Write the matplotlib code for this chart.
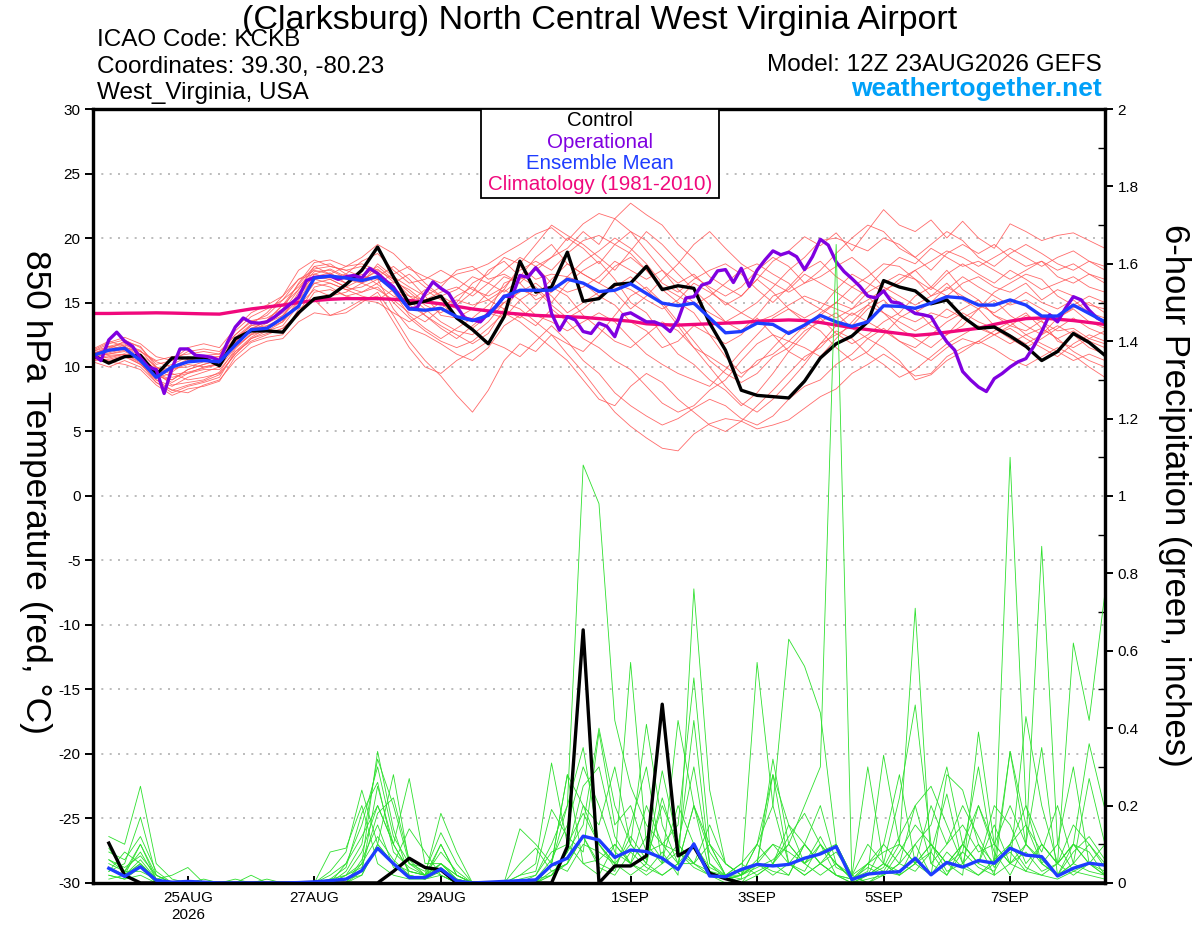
import matplotlib
matplotlib.use('Agg')
import matplotlib.pyplot as plt
from matplotlib.patches import Rectangle
from matplotlib.ticker import FormatStrFormatter, MultipleLocator
import pandas as pd

plt.rcParams['font.family'] = ['Liberation Sans', 'DejaVu Sans']
plt.rcParams['axes.unicode_minus'] = False

# time axes: 6-hourly ensemble, 3-hourly operational
t_times = pd.date_range('2026-08-23 12:00', periods=65, freq='6h')
p_times = pd.date_range('2026-08-23 18:00', periods=64, freq='6h')
op_times = pd.date_range('2026-08-23 12:00', periods=129, freq='3h')

tick_days = ['2026-08-25', '2026-08-27', '2026-08-29', '2026-09-01',
             '2026-09-03', '2026-09-05', '2026-09-07']
tick_labels = ['25AUG\n2026', '27AUG', '29AUG', '1SEP', '3SEP', '5SEP', '7SEP']

# 850 hPa temperature (C)
control_t = [10.9, 10.3, 10.8, 10.9, 9.4, 10.7, 10.7, 10.7, 10.1, 12.2, 12.8, 12.8, 12.7,
             14.2, 15.3, 15.5, 16.4, 17.5, 19.3, 17.0, 14.9, 15.1, 15.5, 13.8, 12.9, 11.8,
             13.9, 18.2, 15.8, 16.2, 18.9, 15.1, 15.3, 16.4, 16.5, 17.8, 16.0, 16.3, 16.1,
             13.4, 11.3, 8.2, 7.8, 7.7, 7.6, 8.9, 10.7, 11.8, 12.4, 13.5, 16.7, 16.2, 15.9,
             14.9, 15.2, 13.9, 13.0, 13.1, 12.4, 11.6, 10.5, 11.2, 12.6, 11.9, 10.9]

mean_t = [10.9, 11.3, 11.45, 10.5, 9.2, 10.0, 10.4, 10.5, 10.4, 11.7, 12.9, 13.0, 13.8,
          14.7, 16.9, 17.05, 16.9, 16.7, 17.0, 16.0, 14.5, 14.4, 14.55, 13.9, 13.6, 14.0,
          15.45, 15.95, 15.95, 15.95, 16.8, 16.5, 15.85, 15.95, 16.45, 15.7, 14.95, 14.75,
          14.95, 13.8, 12.65, 12.75, 13.4, 13.3, 12.6, 13.25, 14.0, 13.5, 13.15, 13.5, 14.75,
          14.7, 14.55, 14.95, 15.45, 15.35, 14.8, 14.8, 15.2, 14.8, 13.95, 13.95, 14.8,
          14.15, 13.5]

clim_t = [14.15, 14.15, 14.17, 14.18, 14.2, 14.18, 14.15, 14.12, 14.1,
          14.3, 14.5, 14.65, 14.8, 15.0, 15.15,
          15.25, 15.3, 15.3, 15.3, 15.25, 15.15,
          15.05, 14.9, 14.7, 14.5, 14.35, 14.2, 14.1, 14.0, 13.95, 13.9,
          13.85, 13.75, 13.65, 13.55, 13.35, 13.28, 13.25, 13.3, 13.35, 13.4,
          13.45, 13.55, 13.6, 13.65, 13.6, 13.45, 13.25, 13.05, 12.9, 12.75,
          12.6, 12.45, 12.55, 12.7, 12.85, 13.0,
          13.3, 13.55, 13.75, 13.8, 13.7, 13.6, 13.45, 13.3]

oper_t = [11.0, 10.5, 12.1, 12.7, 12.0, 11.6, 10.7, 10.0, 9.8, 7.95, 9.9, 11.4, 11.4,
          10.9, 10.85, 10.75, 10.5, 11.9, 13.1, 13.8, 13.45, 13.4, 13.5, 13.9, 14.4, 14.9,
          15.4, 16.7, 16.95, 17.0, 17.05, 16.8, 17.0, 17.1, 16.9, 17.65, 17.25, 16.7, 16.2,
          15.3, 14.5, 14.6, 15.7, 16.6, 16.1, 15.7, 14.7, 13.8, 13.65, 13.5, 14.15, 14.7,
          15.5, 15.45, 17.1, 16.95, 17.7, 16.95, 14.15, 12.85, 13.9, 13.65, 12.75, 12.6,
          13.4, 13.15, 12.35, 14.05, 14.2, 13.85, 13.5, 13.5, 13.25, 12.75, 13.65, 15.35,
          15.45, 16.35, 16.55, 17.45, 17.55, 16.55, 17.65, 16.25, 17.5, 18.3, 19.0, 18.7,
          18.9, 18.55, 17.55, 18.55, 19.9, 19.45, 18.15, 17.4, 16.85, 16.25, 15.5, 15.35,
          15.9, 15.05, 14.95, 14.55, 14.15, 14.05, 13.9, 12.85, 11.95, 11.3, 9.65, 9.0,
          8.45, 8.1, 9.1, 9.5, 10.0, 10.4, 10.65, 11.6, 12.75, 14.05, 13.5, 14.55, 15.45,
          15.2, 14.4, 13.8, 13.45]

members_t = [
    [11.2, 11.8, 12.1, 11.5, 10.2, 10.5, 11.2, 11.4,
     11.2, 12.5, 13.6, 13.8, 14.5, 16.5, 18.1, 18.3,
     17.8, 18.5, 19.5, 18.8, 17.6, 17.0, 16.5, 17.2,
     17.5, 18.0, 18.8, 19.5, 20.3, 20.8, 19.8, 21.1,
     21.9, 21.5, 22.7, 21.8, 21.0, 19.5, 18.4, 17.0,
     16.2, 15.5, 16.8, 18.2, 19.0, 20.1, 19.4, 20.4,
     19.0, 20.6, 22.2, 21.0, 20.5, 21.4, 20.0, 21.3,
     20.0, 19.2, 21.1, 20.5, 19.8, 20.2, 20.4, 19.8, 19.2],
    [10.6, 10.4, 10.2, 9.8, 8.6, 7.8, 8.3, 8.5,
     8.9, 10.8, 11.9, 12.3, 12.5, 14.5, 15.2, 14.0,
     14.2, 15.0, 15.8, 14.0, 12.0, 10.5, 9.3, 7.8,
     6.5, 8.2, 10.5, 11.8, 11.2, 12.5, 11.0, 9.6,
     8.0, 6.5, 5.4, 4.5, 3.7, 3.5, 4.8, 5.6,
     6.0, 5.8, 5.2, 5.5, 5.9, 6.8, 7.7, 8.3,
     9.5, 10.2, 11.0, 10.2, 9.3, 9.5, 10.8, 11.5,
     12.0, 11.4, 10.6, 10.1, 10.8, 11.5, 10.9, 10.0, 9.2],
    [11.0, 11.5, 11.8, 11.0, 9.5, 9.0, 9.8, 10.2,
     10.5, 12.0, 12.8, 13.4, 14.2, 15.5, 17.2, 17.6,
     17.0, 16.8, 17.4, 16.2, 14.8, 14.0, 13.2, 12.5,
     11.8, 12.6, 14.5, 16.0, 15.5, 16.8, 18.0, 17.2,
     16.5, 17.8, 18.5, 17.5, 16.0, 15.0, 14.2, 12.5,
     10.8, 9.5, 10.2, 11.5, 12.8, 13.0, 14.2, 15.0,
     14.5, 15.8, 16.5, 17.2, 16.8, 15.5, 16.0, 17.0,
     16.2, 15.5, 14.8, 15.2, 14.5, 13.8, 14.6, 15.0, 14.2],
    [10.8, 11.0, 11.2, 10.6, 9.0, 8.5, 9.2, 9.6,
     10.0, 11.5, 12.5, 13.2, 13.6, 15.0, 16.8, 17.0,
     16.5, 17.2, 16.4, 15.5, 15.0, 16.0, 15.2, 14.5,
     13.5, 14.2, 16.5, 17.0, 16.2, 15.0, 16.5, 17.5,
     18.2, 16.8, 15.0, 14.2, 12.5, 11.0, 10.2, 9.0,
     8.2, 7.0, 8.0, 9.5, 11.2, 12.5, 13.8, 12.6,
     11.8, 12.5, 13.5, 14.2, 15.5, 16.2, 17.5, 16.0,
     15.2, 14.0, 13.2, 12.8, 13.6, 12.0, 11.5, 12.2, 12.8],
    [11.4, 12.0, 11.6, 10.8, 9.8, 10.2, 10.8, 10.6,
     10.8, 12.2, 13.2, 13.6, 14.8, 16.0, 17.8, 17.2,
     16.8, 16.5, 18.0, 17.0, 16.2, 15.5, 14.0, 13.8,
     14.5, 15.8, 17.0, 16.5, 17.8, 18.5, 20.0, 19.2,
     18.0, 19.5, 20.5, 19.8, 18.5, 17.2, 16.0, 14.8,
     13.5, 12.8, 14.0, 15.5, 16.0, 17.2, 16.5, 15.8,
     15.0, 16.2, 17.5, 18.5, 18.0, 19.2, 18.5, 17.8,
     18.2, 17.5, 16.8, 17.5, 18.2, 17.0, 16.5, 17.2, 16.5],
    [10.5, 10.8, 11.0, 10.3, 8.8, 8.0, 8.5, 8.8,
     9.2, 11.2, 12.0, 12.5, 13.0, 14.2, 16.2, 16.5,
     16.0, 16.2, 16.8, 14.5, 13.0, 12.5, 11.8, 11.0,
     10.5, 11.5, 13.2, 14.0, 13.2, 14.5, 13.5, 12.2,
     11.5, 10.5, 9.8, 8.5, 7.2, 6.5, 7.0, 8.2,
     9.0, 10.5, 11.8, 12.5, 12.0, 13.2, 14.0, 15.0,
     16.2, 15.5, 14.2, 13.5, 12.8, 13.5, 14.5, 13.8,
     13.0, 12.5, 13.2, 14.0, 13.5, 12.8, 13.0, 12.2, 11.8],
    [11.0, 11.2, 11.5, 11.2, 10.5, 10.8, 11.0, 11.2,
     11.0, 12.5, 13.5, 14.0, 15.2, 16.2, 17.6, 17.8,
     17.5, 17.8, 17.2, 16.0, 15.5, 15.2, 15.8, 16.2,
     15.5, 16.5, 17.5, 18.5, 17.8, 16.5, 15.8, 16.2,
     17.0, 18.2, 17.5, 16.8, 17.5, 16.5, 17.2, 16.0,
     14.8, 15.5, 16.8, 15.8, 14.5, 13.8, 14.5, 16.0,
     17.2, 16.5, 15.8, 16.8, 17.5, 16.2, 15.5, 16.5,
     17.0, 16.2, 15.8, 16.5, 15.2, 16.0, 15.5, 14.8, 14.5],
    [10.7, 10.5, 10.8, 10.2, 9.2, 9.5, 9.0, 9.2,
     9.5, 11.0, 12.2, 12.8, 13.2, 14.8, 16.0, 15.5,
     15.8, 16.5, 16.0, 15.2, 14.2, 13.5, 14.5, 15.5,
     16.2, 15.2, 14.5, 13.8, 14.8, 16.2, 15.5, 14.0,
     13.0, 12.0, 11.5, 12.5, 13.5, 12.8, 11.5, 10.8,
     10.0, 9.2, 10.5, 11.0, 12.0, 11.5, 10.8, 12.2,
     13.5, 14.8, 14.2, 13.0, 12.2, 11.5, 12.5, 13.2,
     14.5, 15.2, 14.0, 13.2, 12.5, 13.8, 14.5, 13.5, 13.0],
    [11.2, 11.6, 11.4, 10.5, 9.5, 9.8, 10.2, 10.0,
     10.2, 11.8, 13.0, 13.2, 13.8, 15.8, 17.0, 16.8,
     16.2, 15.8, 16.5, 17.2, 17.8, 16.5, 15.5, 14.8,
     15.8, 17.5, 18.2, 17.0, 18.5, 19.5, 18.0, 17.2,
     16.5, 15.8, 14.5, 15.5, 16.8, 18.0, 19.5, 20.5,
     19.2, 18.0, 17.2, 16.5, 15.8, 16.5, 17.0, 17.8,
     18.5, 17.5, 16.2, 15.5, 14.8, 15.5, 16.5, 15.2,
     14.5, 15.8, 16.5, 17.2, 16.8, 15.5, 14.8, 15.5, 15.0],
    [10.9, 11.0, 11.3, 10.8, 9.8, 9.2, 9.5, 10.0,
     10.3, 11.6, 12.5, 12.8, 13.5, 15.2, 16.5, 16.2,
     15.5, 15.2, 15.0, 14.2, 13.5, 14.2, 15.0, 13.8,
     13.0, 14.0, 15.0, 14.5, 13.5, 12.5, 11.8, 11.2,
     12.5, 14.0, 15.5, 16.2, 15.0, 13.5, 12.0, 10.5,
     9.5, 8.8, 9.5, 10.8, 11.5, 12.8, 13.5, 14.2,
     13.0, 12.2, 11.5, 10.5, 9.0, 9.4, 10.5, 11.2,
     12.0, 12.8, 13.5, 12.5, 11.8, 11.2, 10.5, 11.0, 10.5],
    [11.1, 11.4, 12.0, 11.6, 10.0, 9.6, 10.5, 10.8,
     10.8, 12.3, 13.3, 14.2, 15.5, 16.8, 17.2, 16.9,
     17.2, 18.2, 18.8, 17.5, 16.5, 16.8, 17.5, 16.8,
     16.0, 15.5, 16.2, 17.5, 18.2, 17.5, 18.8, 19.8,
     20.2, 19.5, 18.8, 17.5, 16.2, 15.5, 14.8, 15.5,
     16.5, 17.5, 18.0, 17.2, 16.5, 15.2, 14.5, 13.8,
     14.5, 15.2, 16.0, 16.5, 17.5, 18.2, 19.0, 18.5,
     17.8, 18.5, 19.2, 18.5, 17.8, 18.5, 19.0, 18.2, 17.5],
    [10.4, 10.0, 10.5, 10.0, 8.8, 8.2, 8.0, 8.6,
     9.0, 10.5, 11.5, 12.0, 12.2, 13.5, 14.2, 14.0,
     14.5, 15.2, 15.5, 13.5, 11.5, 10.0, 9.5, 10.5,
     11.2, 12.0, 11.5, 10.8, 12.0, 13.2, 12.0, 10.5,
     9.5, 8.0, 7.0, 6.2, 5.5, 6.0, 6.8, 7.5,
     7.0, 6.0, 5.5, 6.2, 7.5, 8.5, 9.0, 10.2,
     11.0, 12.2, 13.0, 12.0, 11.2, 10.5, 11.5, 12.2,
     11.8, 12.5, 13.0, 12.2, 11.5, 10.8, 11.8, 12.5, 12.0],
    [11.3, 11.9, 12.3, 11.8, 10.8, 10.5, 11.5, 11.8,
     11.5, 13.0, 14.2, 14.8, 15.5, 17.5, 18.3, 17.8,
     17.5, 17.0, 16.8, 16.5, 17.2, 16.2, 15.5, 16.0,
     17.0, 16.5, 15.8, 16.8, 17.5, 18.5, 19.2, 20.5,
     19.5, 21.5, 20.5, 19.0, 17.5, 16.0, 15.0, 14.2,
     13.5, 14.2, 15.0, 16.2, 17.5, 18.5, 19.8, 20.0,
     19.5, 19.0, 20.0, 19.5, 18.5, 17.5, 18.8, 19.5,
     18.8, 19.5, 18.5, 17.8, 18.2, 17.5, 18.0, 17.2, 16.8],
    [10.6, 10.9, 11.0, 10.4, 9.4, 8.8, 9.5, 9.8,
     9.8, 11.2, 12.3, 13.0, 14.0, 15.2, 17.0, 17.3,
     16.5, 17.0, 17.8, 16.8, 15.5, 14.5, 13.5, 12.8,
     12.5, 13.5, 15.0, 15.8, 16.5, 15.5, 14.2, 15.0,
     15.8, 16.2, 17.0, 16.0, 14.8, 13.2, 11.5, 10.0,
     8.5, 7.2, 6.5, 7.5, 8.8, 10.2, 11.8, 12.5,
     13.2, 14.5, 15.2, 14.0, 13.5, 14.2, 13.8, 14.5,
     15.2, 14.0, 13.5, 14.2, 13.0, 12.2, 12.8, 12.0, 11.5],
    [11.0, 11.3, 11.7, 11.3, 9.9, 9.9, 10.0, 10.4,
     10.5, 12.0, 13.0, 13.5, 14.3, 16.0, 17.4, 17.5,
     16.9, 16.6, 17.6, 16.6, 16.0, 15.0, 14.8, 15.2,
     14.8, 15.2, 16.0, 17.8, 16.8, 17.2, 17.0, 16.5,
     15.5, 16.5, 16.0, 15.2, 14.5, 15.2, 16.5, 15.8,
     15.0, 14.2, 13.5, 14.0, 14.8, 15.5, 15.0, 14.5,
     14.0, 14.8, 15.8, 15.0, 14.2, 15.0, 16.2, 15.5,
     14.8, 14.2, 15.0, 15.8, 15.0, 14.5, 15.2, 14.2, 13.8],
    [10.8, 10.7, 11.0, 10.9, 9.6, 8.6, 8.8, 9.0,
     9.6, 11.4, 12.6, 13.0, 13.5, 14.8, 16.5, 16.8,
     16.2, 16.8, 17.0, 15.8, 14.0, 13.0, 12.2, 13.0,
     13.8, 14.8, 16.0, 15.2, 14.0, 13.5, 12.8, 13.5,
     14.2, 13.5, 12.2, 11.0, 10.2, 9.5, 9.0, 8.5,
     9.8, 11.2, 12.5, 13.8, 14.5, 13.5, 12.8, 11.5,
     10.5, 11.2, 12.5, 13.8, 14.5, 13.2, 12.5, 13.8,
     14.5, 13.2, 12.5, 11.8, 12.5, 13.2, 12.5, 11.5, 11.0],
    [11.0, 11.6, 11.9, 11.2, 10.4, 10.0, 10.6, 10.9,
     11.0, 12.8, 13.9, 14.5, 15.2, 16.8, 17.5, 17.2,
     17.8, 18.0, 17.5, 16.8, 15.8, 14.8, 14.2, 15.0,
     16.5, 17.2, 18.5, 18.0, 19.5, 21.0, 20.2, 19.5,
     18.5, 17.5, 19.0, 20.5, 19.5, 18.2, 17.0, 16.2,
     15.5, 16.2, 17.5, 18.5, 17.8, 16.5, 17.5, 18.8,
     20.0, 21.0, 20.5, 19.2, 18.5, 19.5, 20.5, 19.8,
     18.5, 17.8, 18.8, 19.5, 18.8, 18.0, 17.5, 18.2, 17.8],
    [10.5, 10.6, 10.9, 10.2, 9.0, 8.2, 8.6, 8.9,
     9.4, 11.0, 12.2, 12.6, 13.0, 14.0, 15.8, 16.0,
     15.5, 15.8, 16.2, 15.0, 13.8, 12.8, 12.0, 11.5,
     12.0, 13.0, 14.2, 13.5, 12.5, 11.5, 10.5, 9.0,
     7.5, 7.0, 8.5, 9.5, 8.8, 7.5, 6.5, 5.5,
     5.0, 5.8, 7.0, 8.2, 9.5, 10.8, 11.5, 12.8,
     12.2, 11.0, 10.2, 9.2, 9.8, 10.8, 11.8, 12.5,
     13.2, 12.5, 11.8, 12.5, 13.0, 12.2, 11.2, 10.5, 10.0],
    [11.1, 11.2, 11.6, 11.0, 10.0, 9.4, 9.6, 9.9,
     10.2, 11.9, 12.9, 13.6, 14.8, 16.4, 17.8, 18.0,
     17.2, 16.5, 17.0, 17.8, 16.8, 15.5, 16.2, 17.5,
     17.8, 16.8, 17.2, 16.5, 15.2, 15.8, 17.0, 18.2,
     19.0, 20.0, 19.2, 18.0, 16.5, 15.8, 16.8, 17.5,
     18.0, 17.2, 16.0, 15.0, 16.2, 17.5, 18.2, 17.0,
     16.2, 17.0, 18.0, 17.8, 16.8, 16.0, 17.2, 18.0,
     17.2, 16.5, 17.5, 16.8, 16.0, 16.5, 17.0, 16.2, 15.8],
    [10.7, 11.1, 11.4, 10.7, 9.3, 9.0, 9.8, 10.2,
     10.6, 12.1, 13.2, 13.4, 14.0, 15.6, 16.8, 16.5,
     16.0, 15.5, 15.2, 16.0, 15.2, 14.0, 13.0, 12.2,
     13.2, 14.2, 13.8, 15.2, 16.0, 14.8, 13.8, 14.5,
     15.5, 14.8, 13.5, 12.8, 11.5, 12.0, 13.2, 12.5,
     11.8, 12.5, 13.8, 12.5, 11.2, 10.5, 11.8, 13.2,
     14.2, 13.5, 12.8, 12.0, 11.5, 12.5, 13.5, 14.2,
     13.5, 13.0, 12.2, 11.5, 12.2, 13.0, 13.8, 13.0, 12.5],
]

# 6-hour precipitation (inches)
control_p = [0.103, 0.02, 0, 0, 0, 0, 0, 0,
             0, 0, 0, 0, 0, 0, 0, 0,
             0, 0, 0.03, 0.064, 0.04, 0.034, 0, 0,
             0, 0, 0, 0, 0, 0.094, 0.654, 0,
             0.044, 0.044, 0.07, 0.462, 0.07, 0.094, 0.025, 0.011,
             0, 0, 0, 0, 0, 0, 0, 0,
             0, 0, 0, 0, 0, 0, 0, 0,
             0, 0, 0, 0, 0, 0, 0, 0]

mean_p = [0.038, 0.017, 0.042, 0.007, 0.002, 0.004, 0.002, 0,
          0, 0, 0, 0, 0.001, 0.003, 0.006, 0.01,
          0.032, 0.09, 0.05, 0.014, 0.014, 0.036, 0.005, 0,
          0.002, 0.004, 0.006, 0.008, 0.046, 0.064, 0.121, 0.111,
          0.066, 0.085, 0.081, 0.064, 0.035, 0.101, 0.018, 0.016,
          0.035, 0.048, 0.044, 0.048, 0.064, 0.075, 0.094, 0.009,
          0.023, 0.027, 0.029, 0.064, 0.021, 0.053, 0.041, 0.058,
          0.051, 0.09, 0.072, 0.068, 0.018, 0.038, 0.051, 0.046]

members_p = [
    [0.05, 0.03, 0.08, 0.01, 0, 0, 0, 0,
     0, 0, 0, 0, 0, 0, 0.02, 0.05,
     0.12, 0.2, 0.1, 0.03, 0.02, 0.05, 0.01, 0,
     0, 0, 0, 0.02, 0.1, 0.2, 1.08, 0.98,
     0.42, 0.25, 0.15, 0.1, 0.05, 0.2, 0.08, 0.02,
     0.03, 0.05, 0.1, 0.08, 0.05, 0.12, 0.04, 0.02,
     0, 0.03, 0.1, 0.05, 0.08, 0.02, 0.1, 0.05,
     0.15, 0.05, 0.03, 0.02, 0.05, 0.1, 0.05, 0.03],
    [0.02, 0.01, 0.04, 0, 0, 0, 0, 0,
     0, 0, 0, 0, 0, 0, 0, 0.02,
     0.05, 0.12, 0.06, 0.02, 0.01, 0.02, 0, 0,
     0, 0, 0, 0, 0.03, 0.05, 0.12, 0.04,
     0.02, 0.08, 0.04, 0.02, 0.05, 0.1, 0.03, 0.01,
     0.02, 0.04, 0.06, 0.1, 0.2, 0.3, 1.65, 0,
     0.02, 0.05, 0.03, 0.06, 0.02, 0.08, 0.04, 0.02,
     0.06, 0.1, 0.04, 0.02, 0.01, 0.03, 0.02, 0.01],
    [0.1, 0.02, 0.05, 0.01, 0, 0, 0, 0,
     0.01, 0, 0, 0, 0, 0, 0.03, 0.08,
     0.24, 0.1, 0.05, 0.03, 0.02, 0.18, 0.08, 0,
     0, 0, 0.02, 0.05, 0.31, 0.1, 0.05, 0.06,
     0.1, 0.05, 0.03, 0.08, 0.02, 0.76, 0.24, 0.05,
     0.02, 0.05, 0.03, 0.02, 0.1, 0.05, 0.08, 0.02,
     0.05, 0.03, 0.02, 0.05, 0.1, 0.03, 0.05, 0.02,
     0.05, 1.1, 0.2, 0.05, 0.02, 0.05, 0.03, 0.02],
    [0.03, 0.05, 0.17, 0.02, 0, 0, 0, 0,
     0, 0, 0, 0, 0, 0, 0, 0,
     0.05, 0.34, 0.14, 0.02, 0.01, 0.05, 0.02, 0,
     0, 0, 0, 0, 0.05, 0.03, 0.1, 0.08,
     0.05, 0.57, 0.1, 0.05, 0.08, 0.04, 0.02, 0.01,
     0, 0.05, 0.02, 0.05, 0.03, 0.1, 0.05, 0.01,
     0.03, 0.33, 0.1, 0.71, 0.05, 0.02, 0.08, 0.04,
     0.02, 0.05, 0.1, 0.87, 0.1, 0.03, 0.05, 0.02],
    [0.12, 0.1, 0.25, 0.05, 0.01, 0, 0, 0,
     0, 0, 0, 0, 0, 0, 0, 0.01,
     0.02, 0.1, 0.28, 0.05, 0.03, 0.13, 0.05, 0,
     0, 0, 0, 0, 0.02, 0.08, 0.15, 0.4,
     0.2, 0.1, 0.41, 0.15, 0.05, 0.05, 0.02, 0,
     0.01, 0.57, 0.2, 0.05, 0.02, 0.05, 0.02, 0,
     0.01, 0.02, 0.05, 0.03, 0.08, 0.23, 0.05, 0.1,
     0.05, 0.08, 0.03, 0.1, 0.05, 0.62, 0.42, 0.75],
    [0.04, 0.02, 0.1, 0.01, 0, 0, 0, 0,
     0, 0.02, 0, 0, 0, 0, 0.08, 0.09,
     0.2, 0.05, 0.02, 0.01, 0.01, 0.03, 0.01, 0,
     0, 0, 0.14, 0.1, 0.05, 0.28, 0.2, 0.1,
     0.05, 0.02, 0.05, 0.29, 0.1, 0.05, 0.03, 0.02,
     0.05, 0.1, 0.2, 0.63, 0.56, 0.44, 0.1, 0.02,
     0.3, 0.05, 0.02, 0.05, 0.1, 0.05, 0.02, 0.39,
     0.1, 0.05, 0.43, 0.2, 0.05, 0.1, 0.05, 0.02],
    [0.08, 0.06, 0.12, 0.03, 0, 0, 0.01, 0,
     0, 0, 0.01, 0, 0, 0, 0, 0.03,
     0.1, 0.32, 0.2, 0.05, 0.02, 0.08, 0.03, 0,
     0, 0, 0.02, 0.03, 0.19, 0.12, 0.08, 0.39,
     0.15, 0.2, 0.08, 0.1, 0.15, 0.53, 0.1, 0.05,
     0.02, 0.05, 0.32, 0.1, 0.05, 0.02, 0.05, 0.01,
     0.02, 0.05, 0.22, 0.46, 0.1, 0.05, 0.08, 0.3,
     0.05, 0.34, 0.15, 0.05, 0.02, 0.1, 0.36, 0.19],
    [0.02, 0.01, 0.02, 0, 0, 0, 0, 0,
     0, 0, 0, 0, 0, 0, 0, 0,
     0.03, 0.25, 0.1, 0.27, 0.05, 0.05, 0.01, 0,
     0, 0, 0, 0, 0.05, 0.28, 0.05, 0.02,
     0.1, 0.05, 0.02, 0.05, 0.42, 0.2, 0.1, 0.02,
     0, 0.02, 0.05, 0.1, 0.05, 0.08, 0.1, 0,
     0.05, 0.1, 0.28, 0.05, 0.02, 0.28, 0.24, 0.1,
     0.02, 0.34, 0.1, 0.35, 0.02, 0.05, 0.27, 0.1],
    [0.06, 0.04, 0.07, 0.02, 0, 0, 0, 0,
     0, 0, 0, 0, 0, 0, 0, 0,
     0.06, 0.15, 0.04, 0.02, 0.01, 0.1, 0.02, 0,
     0, 0, 0.05, 0.09, 0.03, 0.05, 0.2, 0.15,
     0.3, 0.1, 0.05, 0.22, 0.08, 0.42, 0.05, 0.01,
     0.02, 0.05, 0.28, 0.15, 0.05, 0.1, 0.02, 0,
     0.02, 0.1, 0.05, 0.2, 0.25, 0.15, 0.05, 0.2,
     0.08, 0.02, 0.1, 0.05, 0.1, 0.3, 0.05, 0.1],
    [0.01, 0.02, 0.05, 0.01, 0.02, 0.04, 0, 0,
     0, 0, 0, 0, 0, 0, 0, 0.05,
     0.15, 0.3, 0.12, 0.05, 0.04, 0.02, 0, 0,
     0, 0, 0, 0.01, 0.02, 0.05, 0.12, 0.05,
     0.03, 0.15, 0.3, 0.05, 0.1, 0.05, 0.15, 0.05,
     0.02, 0.1, 0.05, 0.02, 0.1, 0.2, 0.05, 0.02,
     0.1, 0.05, 0.02, 0.1, 0.15, 0.3, 0.1, 0.05,
     0.03, 0.1, 0.15, 0.08, 0.2, 0.05, 0.1, 0.05],
    [0.03, 0.08, 0.05, 0, 0, 0, 0, 0,
     0, 0, 0, 0, 0, 0, 0.01, 0.02,
     0.08, 0.2, 0.1, 0.03, 0.02, 0.05, 0.02, 0,
     0, 0, 0, 0, 0.05, 0.2, 0.35, 0.1,
     0.05, 0.1, 0.05, 0.02, 0.05, 0.2, 0.03, 0.01,
     0.02, 0.1, 0.28, 0.05, 0.02, 0.05, 0.1, 0.02,
     0, 0.02, 0.05, 0.1, 0.02, 0.05, 0.1, 0.05,
     0.2, 0.15, 0.05, 0.1, 0.05, 0.02, 0.05, 0.05],
    [0.09, 0.03, 0.03, 0.01, 0, 0, 0, 0,
     0, 0, 0, 0, 0, 0, 0, 0,
     0.02, 0.1, 0.05, 0.14, 0.08, 0.02, 0, 0,
     0, 0, 0, 0, 0.02, 0.08, 0.25, 0.3,
     0.12, 0.05, 0.2, 0.1, 0.08, 0.05, 0.1, 0.02,
     0.05, 0.02, 0.05, 0.15, 0.1, 0.05, 0.02, 0.01,
     0.05, 0.08, 0.1, 0.05, 0.2, 0.1, 0.15, 0.08,
     0.1, 0.05, 0.08, 0.03, 0.05, 0.1, 0.08, 0.02],
    [0.04, 0.02, 0.06, 0.01, 0, 0, 0, 0,
     0, 0, 0, 0, 0, 0, 0.01, 0.04,
     0.18, 0.26, 0.08, 0.04, 0.02, 0.04, 0.01, 0,
     0, 0, 0.01, 0.02, 0.08, 0.1, 0.18, 0.1,
     0.04, 0.12, 0.06, 0.2, 0.1, 0.3, 0.05, 0.02,
     0.01, 0.03, 0.05, 0.12, 0.18, 0.1, 0.05, 0.01,
     0.02, 0.04, 0.12, 0.2, 0.05, 0.1, 0.2, 0.12,
     0.04, 0.1, 0.2, 0.1, 0.05, 0.15, 0.1, 0.04],
    [0.06, 0.03, 0.1, 0.02, 0, 0, 0, 0,
     0, 0, 0, 0, 0, 0, 0, 0.02,
     0.04, 0.18, 0.22, 0.06, 0.02, 0.1, 0.02, 0,
     0, 0, 0, 0.01, 0.06, 0.15, 0.3, 0.2,
     0.08, 0.05, 0.12, 0.06, 0.2, 0.1, 0.04, 0.02,
     0.02, 0.06, 0.1, 0.05, 0.1, 0.05, 0.02, 0.01,
     0.04, 0.02, 0.08, 0.15, 0.1, 0.05, 0.1, 0.2,
     0.1, 0.2, 0.1, 0.06, 0.02, 0.08, 0.12, 0.06],
]

RED = '#ff5a5a'
GREEN = '#2ee02e'
PURPLE = '#8000e0'
BLUE = '#1e3cff'
PINK = '#f0087c'

fig = plt.figure(figsize=(12, 9.27), dpi=100)
ax = fig.add_axes([0.0775, 0.0475, 0.8433, 0.8349])
ax2 = ax.twinx()

for m in members_t:
    ax.plot(t_times, m, color=RED, lw=0.6, alpha=0.9)
ax.plot(t_times, clim_t, color=PINK, lw=2.4, solid_capstyle='round')
ax.plot(t_times, control_t, color='black', lw=2.4)
ax.plot(op_times, oper_t, color=PURPLE, lw=2.4)
ax.plot(t_times, mean_t, color=BLUE, lw=2.4)

for m in members_p:
    ax2.plot(p_times, m, color=GREEN, lw=0.6)
ax2.plot(p_times, control_p, color='black', lw=2.4)
ax2.plot(p_times, mean_p, color=BLUE, lw=2.4)

ax.set_xlim(t_times[0], t_times[-1])
ax.set_ylim(-30, 30)
ax2.set_ylim(0, 2)

ax.set_yticks(range(-30, 31, 5))
ax.yaxis.grid(True, linestyle=(0, (1.2, 3.8)), color='#b0b0b0', lw=1.2)
ax.tick_params(axis='y', direction='out', length=6, width=1.4, labelsize=11, pad=3)

ax.set_xticks(pd.to_datetime(tick_days))
ax.set_xticklabels(tick_labels)
ax.tick_params(axis='x', direction='in', length=5, width=1.4, labelsize=11, pad=6)

ax2.yaxis.set_major_locator(MultipleLocator(0.2))
ax2.yaxis.set_minor_locator(MultipleLocator(0.1))
ax2.yaxis.set_major_formatter(FormatStrFormatter('%g'))
ax2.tick_params(axis='y', which='major', direction='out', length=6, width=1.4,
                labelsize=11, pad=3)
ax2.tick_params(axis='y', which='minor', direction='in', length=5, width=1.0)

for a in (ax, ax2):
    for s in a.spines.values():
        s.set_linewidth(2.3)

# headers
fig.text(0.5, 1 - 29 / 927, '(Clarksburg) North Central West Virginia Airport',
         ha='center', va='baseline', fontsize=24.5)
fig.text(97 / 1200, 1 - 46 / 927, 'ICAO Code: KCKB', va='baseline', fontsize=17.5)
fig.text(97 / 1200, 1 - 73 / 927, 'Coordinates: 39.30, -80.23', va='baseline', fontsize=17.5)
fig.text(97 / 1200, 1 - 99 / 927, 'West_Virginia, USA', va='baseline', fontsize=17.5)
fig.text(1102 / 1200, 1 - 71 / 927, 'Model: 12Z 23AUG2026 GEFS', ha='right',
         va='baseline', fontsize=17.5)
fig.text(1102 / 1200, 1 - 96 / 927, 'weathertogether.net', ha='right', va='baseline',
         fontsize=19, fontweight='bold', color='#00a0f8')

fig.text(35 / 1200, 1 - 492 / 927, '850 hPa Temperature (red, \u00b0C)', rotation=-90,
         ha='center', va='center', fontsize=25.5)
fig.text(1174 / 1200, 1 - 495 / 927, '6-hour Precipitation (green, inches)', rotation=-90,
         ha='center', va='center', fontsize=25)

# legend box
box = Rectangle((481 / 1200, 1 - 198 / 927), 238 / 1200, 89 / 927, transform=fig.transFigure,
                facecolor='white', edgecolor='black', lw=1.3, zorder=5)
fig.add_artist(box)
legend_items = [('Control', 'black'), ('Operational', PURPLE),
                ('Ensemble Mean', BLUE), ('Climatology (1981-2010)', PINK)]
for n, (label, col) in enumerate(legend_items):
    fig.text(0.5, 1 - (121 + 21.3 * n) / 927, label, ha='center', va='center',
             fontsize=14.8, color=col, zorder=6)

fig.savefig('out.png', dpi=100)
